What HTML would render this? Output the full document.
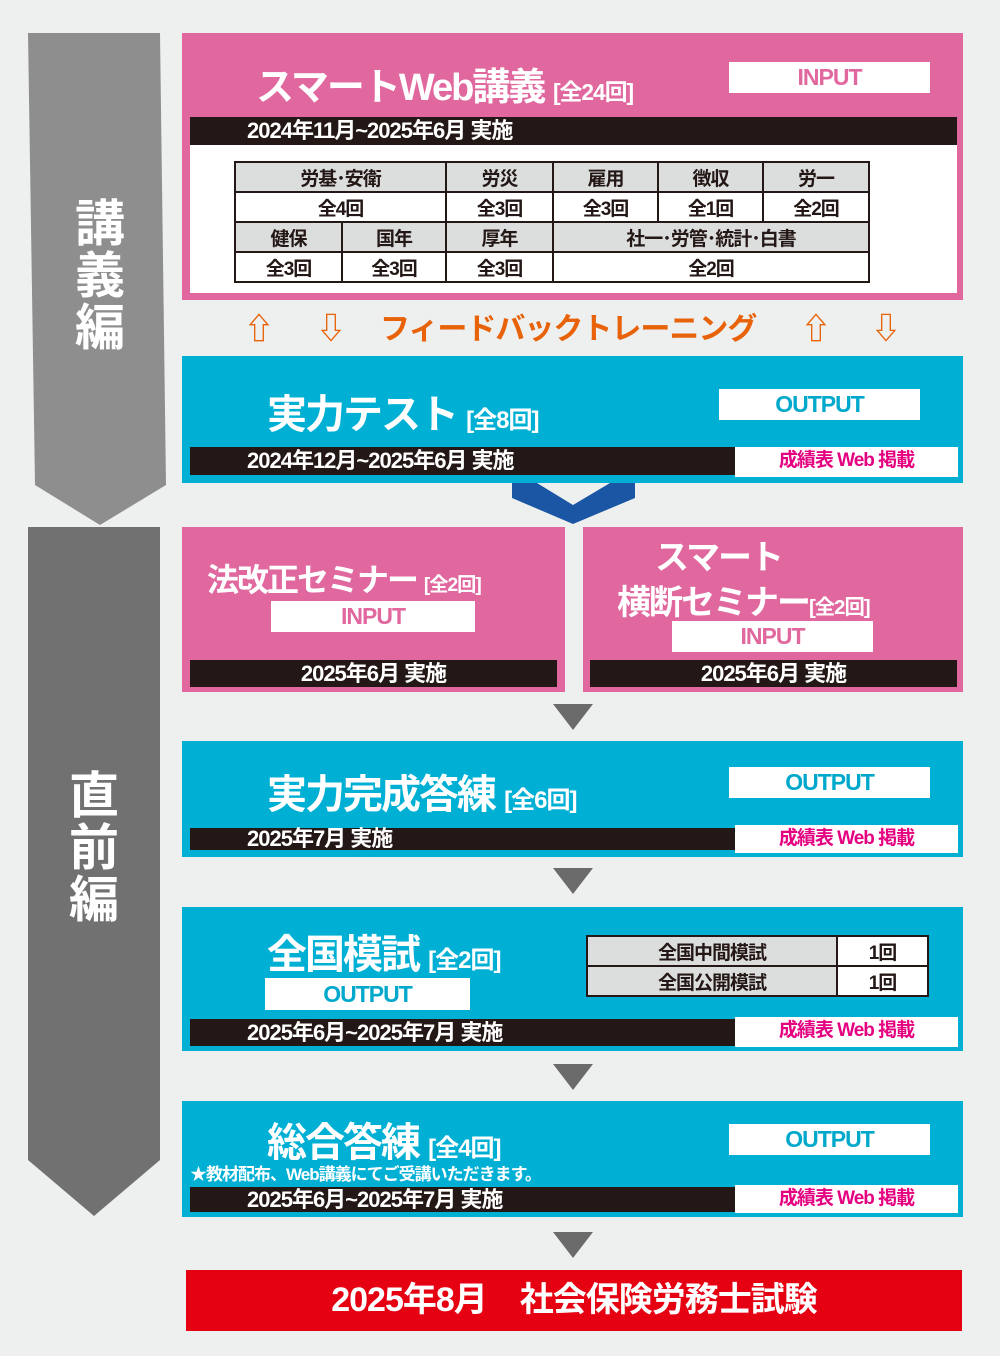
<!DOCTYPE html>
<html><head><meta charset="utf-8"><style>
*{margin:0;padding:0;box-sizing:border-box}
body{width:1000px;height:1356px;background:#eef0ef;position:relative;overflow:hidden;font-family:"Liberation Sans","Noto Sans CJK JP",sans-serif;font-weight:bold}
.a{position:absolute}
.pk{background:#e0689f}
.cy{background:#00b0d4}
.bar{background:#231815;color:#fff;font-size:22px;line-height:28px;letter-spacing:-1px}
.wb{background:#fff;text-align:center;font-family:"Liberation Sans",sans-serif;font-size:23px;letter-spacing:-1px}
.in{color:#e0689f}.out{color:#00a8cc}
.ttl{color:#fff;white-space:nowrap;letter-spacing:-2px}
.sm{font-size:0.6em;letter-spacing:-1px}
.web{background:#fff;color:#e4007f;font-size:19px;text-align:center;line-height:28px;letter-spacing:-1px}
table{border-collapse:collapse;font-size:19px;text-align:center;letter-spacing:-1px;table-layout:fixed}
td{border:2px solid #231815;height:30px;padding:0;color:#231815}
.g{background:#dcdddd}
.tri{width:0;height:0;border-left:20px solid transparent;border-right:20px solid transparent;border-top:26px solid #6b6b6b}
</style></head><body>
<svg class="a" style="left:0;top:0" width="1000" height="1356">
<polygon points="28,33 160,33 166,485 100,525 35,485" fill="#8e8e8e"/>
<polygon points="28,527 160,527 160,1160 94,1216 28,1160" fill="#717171"/>
<polygon points="512,483 537,483 573,505 610,483 635,483 635,498 573,524 512,498" fill="#1a56a4"/>
</svg>
<div class="a" style="left:72px;top:198px;width:56px;color:#fff;font-size:50px;line-height:52px;text-align:center">講<br>義<br>編</div>
<div class="a" style="left:66px;top:770px;width:56px;color:#fff;font-size:50px;line-height:52px;text-align:center">直<br>前<br>編</div>

<!-- box1 -->
<div class="a pk" style="left:182px;top:33px;width:781px;height:267px"></div>
<div class="a" style="left:190px;top:117px;width:767px;height:176px;background:#fff"></div>
<div class="a ttl" style="left:256px;top:56px;font-size:38px">スマートWeb講義 <span class="sm">[全24回]</span></div>
<div class="a wb in" style="left:729px;top:62px;width:201px;height:31px;line-height:31px">INPUT</div>
<div class="a bar" style="left:190px;top:117px;width:767px;height:28px;padding-left:57px">2024年11月~2025年6月 実施</div>
<table class="a" style="left:234px;top:161px;width:634px">
<colgroup><col style="width:107px"><col style="width:104px"><col style="width:107px"><col style="width:105px"><col style="width:105px"><col style="width:106px"></colgroup>
<tr class="g"><td colspan="2">労基･安衛</td><td>労災</td><td>雇用</td><td>徴収</td><td>労一</td></tr>
<tr><td colspan="2">全4回</td><td>全3回</td><td>全3回</td><td>全1回</td><td>全2回</td></tr>
<tr class="g"><td>健保</td><td>国年</td><td>厚年</td><td colspan="3">社一･労管･統計･白書</td></tr>
<tr><td>全3回</td><td>全3回</td><td>全3回</td><td colspan="3">全2回</td></tr>
</table>

<!-- feedback -->
<div class="a" style="left:240px;top:310px;width:680px;color:#e8620a;font-size:30px;line-height:40px;white-space:nowrap">
<span class="a" style="left:4px">⇧</span><span class="a" style="left:76px">⇩</span>
<span class="a" style="left:140px;letter-spacing:-1px">フィードバックトレーニング</span>
<span class="a" style="left:561px">⇧</span><span class="a" style="left:631px">⇩</span></div>

<!-- box2 -->
<div class="a cy" style="left:182px;top:356px;width:781px;height:127px"></div>
<div class="a ttl" style="left:267px;top:382px;font-size:40px">実力テスト <span class="sm">[全8回]</span></div>
<div class="a wb out" style="left:719px;top:389px;width:201px;height:31px;line-height:31px">OUTPUT</div>
<div class="a bar" style="left:190px;top:447px;width:545px;height:28px;padding-left:57px">2024年12月~2025年6月 実施</div>
<div class="a web" style="left:735px;top:447px;width:223px;height:30px">成績表 Web 掲載</div>

<!-- seminars -->
<div class="a pk" style="left:182px;top:527px;width:383px;height:165px"></div>
<div class="a pk" style="left:583px;top:527px;width:380px;height:165px"></div>
<div class="a ttl" style="left:207px;top:555px;font-size:32px">法改正セミナー <span class="sm">[全2回]</span></div>
<div class="a wb in" style="left:271px;top:601px;width:204px;height:31px;line-height:31px">INPUT</div>
<div class="a bar" style="left:190px;top:660px;width:367px;height:27px;text-align:center">2025年6月 実施</div>
<div class="a ttl" style="left:655px;top:530px;font-size:34px">スマート</div>
<div class="a ttl" style="left:617px;top:575px;font-size:34px">横断セミナー<span class="sm">[全2回]</span></div>
<div class="a wb in" style="left:672px;top:621px;width:201px;height:31px;line-height:31px">INPUT</div>
<div class="a bar" style="left:590px;top:660px;width:367px;height:27px;text-align:center">2025年6月 実施</div>

<div class="a tri" style="left:553px;top:704px"></div>

<!-- box3 -->
<div class="a cy" style="left:182px;top:741px;width:781px;height:116px"></div>
<div class="a ttl" style="left:267px;top:762px;font-size:40px">実力完成答練 <span class="sm">[全6回]</span></div>
<div class="a wb out" style="left:729px;top:767px;width:201px;height:31px;line-height:31px">OUTPUT</div>
<div class="a bar" style="left:190px;top:828px;width:545px;height:22px;line-height:22px;padding-left:57px">2025年7月 実施</div>
<div class="a web" style="left:735px;top:825px;width:223px;height:28px">成績表 Web 掲載</div>

<div class="a tri" style="left:553px;top:868px"></div>

<!-- box4 -->
<div class="a cy" style="left:182px;top:907px;width:781px;height:144px"></div>
<div class="a ttl" style="left:267px;top:922px;font-size:40px">全国模試 <span class="sm">[全2回]</span></div>
<table class="a" style="left:586px;top:935px;width:343px">
<colgroup><col style="width:250px"><col></colgroup>
<tr><td class="g">全国中間模試</td><td style="background:#fff">1回</td></tr>
<tr><td class="g">全国公開模試</td><td style="background:#fff">1回</td></tr>
</table>
<div class="a wb out" style="left:265px;top:978px;width:205px;height:32px;line-height:32px">OUTPUT</div>
<div class="a bar" style="left:190px;top:1019px;width:545px;height:27px;padding-left:57px">2025年6月~2025年7月 実施</div>
<div class="a web" style="left:735px;top:1017px;width:223px;height:30px">成績表 Web 掲載</div>

<div class="a tri" style="left:553px;top:1064px"></div>

<!-- box5 -->
<div class="a cy" style="left:182px;top:1101px;width:781px;height:116px"></div>
<div class="a ttl" style="left:267px;top:1110px;font-size:40px">総合答練 <span class="sm">[全4回]</span></div>
<div class="a wb out" style="left:729px;top:1124px;width:201px;height:31px;line-height:31px">OUTPUT</div>
<div class="a" style="left:190px;top:1160px;color:#fff;font-size:17px;letter-spacing:-1px;white-space:nowrap">★教材配布、Web講義にてご受講いただきます。</div>
<div class="a bar" style="left:190px;top:1187px;width:545px;height:25px;line-height:25px;padding-left:57px">2025年6月~2025年7月 実施</div>
<div class="a web" style="left:735px;top:1185px;width:223px;height:28px">成績表 Web 掲載</div>

<div class="a tri" style="left:553px;top:1232px"></div>

<div class="a" style="left:186px;top:1270px;width:776px;height:61px;background:#e50012;color:#fff;font-size:34px;line-height:61px;text-align:center;letter-spacing:-1px">2025年8月　社会保険労務士試験</div>
</body></html>
